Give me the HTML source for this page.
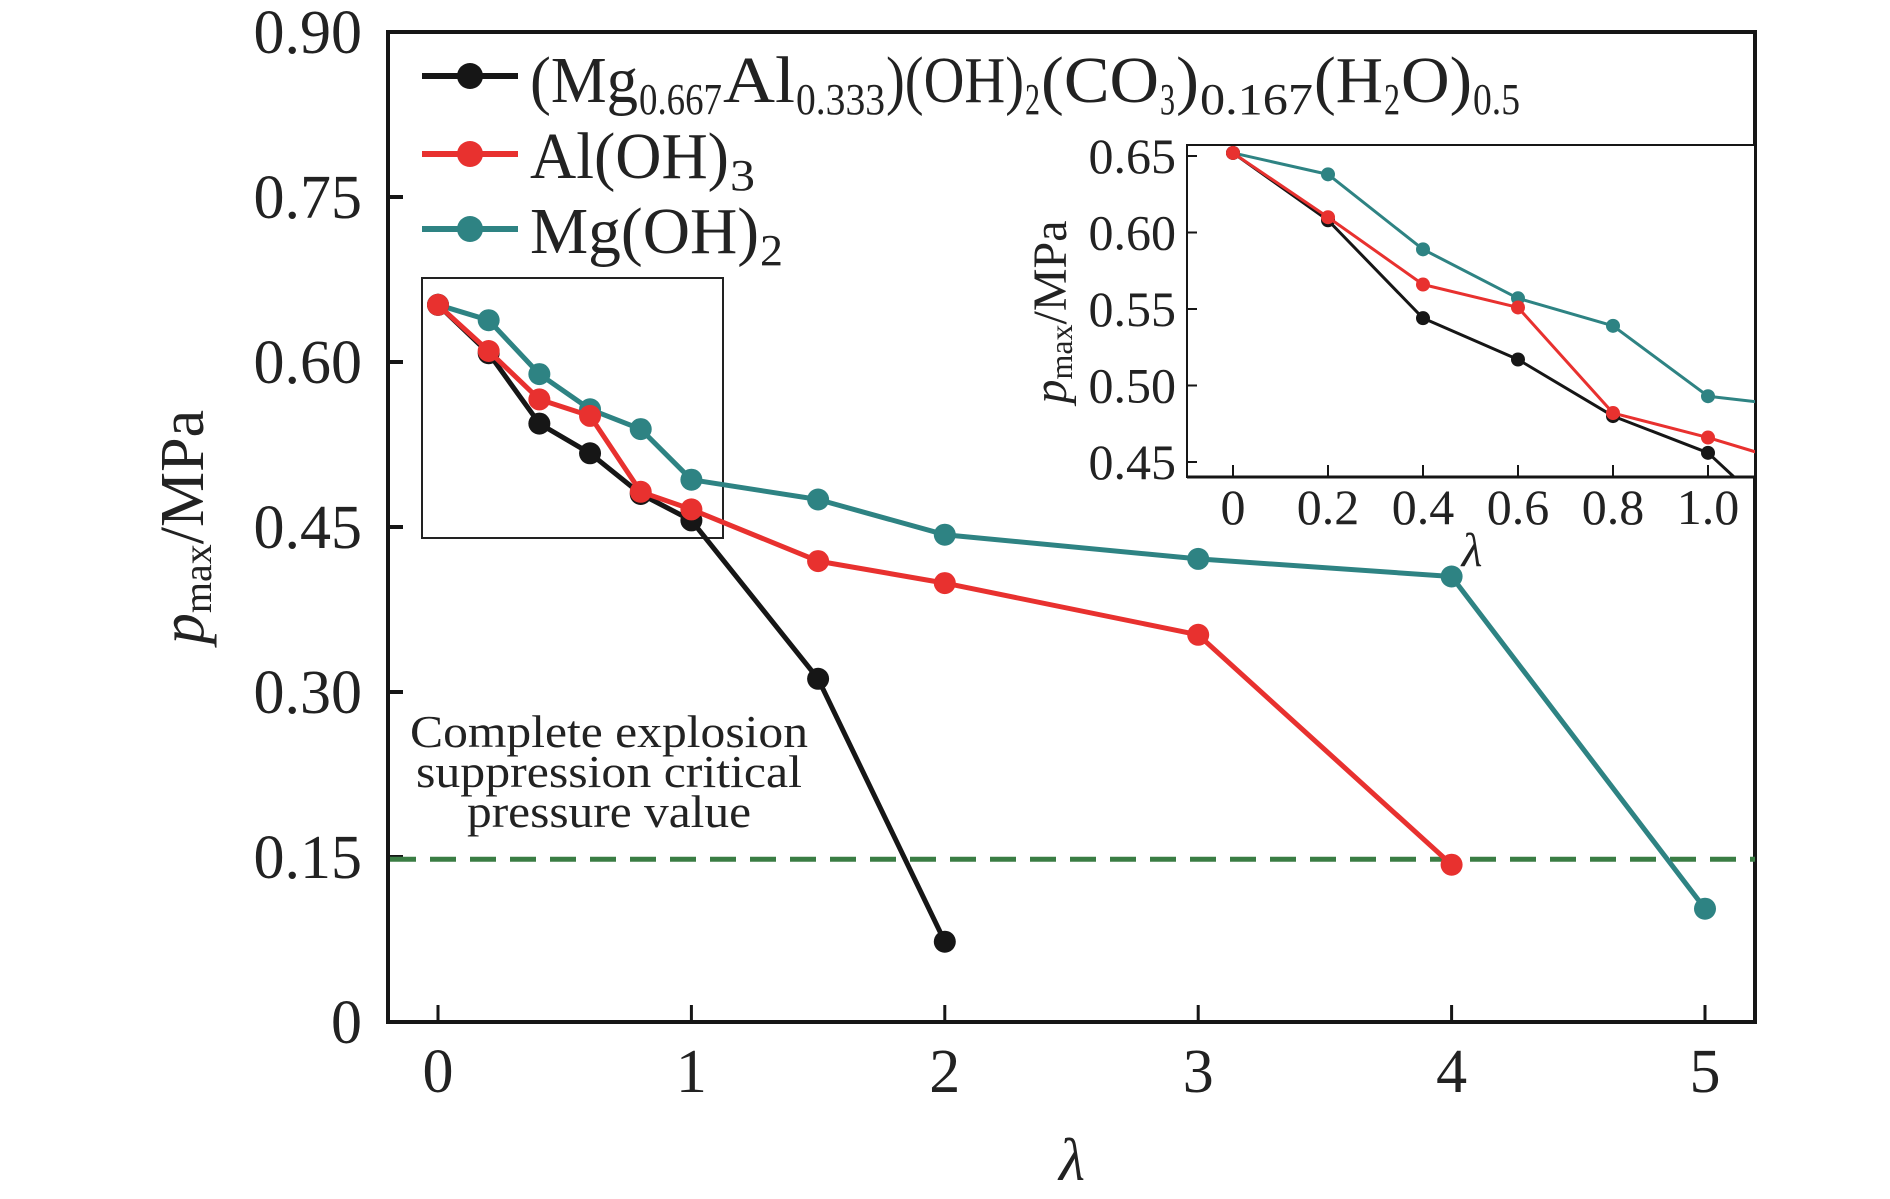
<!DOCTYPE html>
<html><head><meta charset="utf-8"><style>
html,body{margin:0;padding:0;background:#fff;}
svg{display:block;font-family:"Liberation Serif","DejaVu Serif",serif;}
</style></head><body>
<svg id="chart" width="1890" height="1199" viewBox="0 0 1890 1199" xmlns="http://www.w3.org/2000/svg">
<defs><clipPath id="insetClip"><rect x="1187" y="145" width="568" height="332"/></clipPath></defs>
<g id="main"></g>
<g id="inset"></g>
</svg>
<script>
const xBlack=[0,0.2,0.4,0.6,0.8,1,1.5,2];
const yBlack=[0.652,0.608,0.544,0.517,0.480,0.456,0.312,0.073];
const xRed=[0,0.2,0.4,0.6,0.8,1,1.5,2,3,4];
const yRed=[0.652,0.610,0.566,0.551,0.482,0.466,0.419,0.399,0.352,0.143];
const xTeal=[0,0.2,0.4,0.6,0.8,1,1.5,2,3,4,5];
const yTeal=[0.652,0.638,0.589,0.557,0.539,0.493,0.475,0.443,0.421,0.405,0.103];
const criticalValue=0.148;
const mainYTicks=[0,0.15,0.30,0.45,0.60,0.75,0.90];
const mainYLabels=["0","0.15","0.30","0.45","0.60","0.75","0.90"];
const mainXTicks=[0,1,2,3,4,5];
const insetYTicks=[0.45,0.50,0.55,0.60,0.65];
const insetYLabels=["0.45","0.50","0.55","0.60","0.65"];
const insetXTicks=[0,0.2,0.4,0.6,0.8,1.0];
const insetXLabels=["0","0.2","0.4","0.6","0.8","1.0"];

const NS="http://www.w3.org/2000/svg";
const COL={black:"#161616",red:"#e8312f",teal:"#2e8383"};
function mk(parent,tag,attrs,text){const e=document.createElementNS(NS,tag);for(const k in attrs)e.setAttribute(k,attrs[k]);if(text!==undefined)e.textContent=text;parent.appendChild(e);return e;}

const mx=v=>438+v*253.4, my=v=>1022-v*(990/0.9);
const main=document.getElementById('main');
const frame=mk(main,'rect',{x:388,y:32,width:1367,height:990,fill:'none',stroke:'#161616','stroke-width':4});


mainYTicks.forEach((t,i)=>{
  const tk=mk(main,'line',{x1:388,x2:403,y1:my(t),y2:my(t),stroke:'#161616','stroke-width':4});
  
  
  const lb=mk(main,'text',{x:362,y:my(t)+21,'text-anchor':'end','font-size':62,fill:'#222'},mainYLabels[i]);
  
  
});
mainXTicks.forEach(t=>{
  const tk=mk(main,'line',{x1:mx(t),x2:mx(t),y1:1022,y2:1005,stroke:'#161616','stroke-width':3});
  
  
  const lb=mk(main,'text',{x:mx(t),y:1092,'text-anchor':'middle','font-size':62,fill:'#222'},String(t));
  
  
});
const xt=mk(main,'text',{x:1072,y:1180,'text-anchor':'middle','font-size':60,'font-style':'italic',fill:'#222'},'λ');


const yt=mk(main,'text',{x:0,y:0,'text-anchor':'middle','font-size':62,fill:'#222',transform:'translate(203,527) rotate(-90)'});


mk(yt,'tspan',{'font-style':'italic'},'p');
mk(yt,'tspan',{'font-size':40,dy:8},'max');
mk(yt,'tspan',{dy:-8},'/MPa');

const dl=mk(main,'line',{x1:390,x2:1755,y1:my(criticalValue),y2:my(criticalValue),stroke:'#3a7d44','stroke-width':5,'stroke-dasharray':'26,14'});


[['Complete explosion',398],['suppression critical',386],['pressure value',284]].forEach((s,i)=>{
  const t=mk(main,'text',{x:609,y:747+i*40,'text-anchor':'middle','font-size':46,fill:'#222',textLength:s[1],lengthAdjust:'spacingAndGlyphs'},s[0]);
  
  
});
const zr=mk(main,'rect',{x:422,y:278,width:301,height:260,fill:'none',stroke:'#222','stroke-width':2});



function series(g,xs,ys,fx,fy,col,w,r,name){
  const pl=mk(g,'polyline',{points:xs.map((x,i)=>fx(x)+','+fy(ys[i])).join(' '),fill:'none',stroke:col,'stroke-width':w,'stroke-linejoin':'round'});
  
  
  xs.forEach((x,i)=>{
    const c=mk(g,'circle',{cx:fx(x),cy:fy(ys[i]),r:r,fill:col});
    
    
  });
}
series(main,xTeal,yTeal,mx,my,COL.teal,5,11,'mg-oh2');
series(main,xBlack,yBlack,mx,my,COL.black,5,11,'ldh');
series(main,xRed,yRed,mx,my,COL.red,5,11,'al-oh3');

const legY=[76,154,229];
const legC=[COL.black,COL.red,COL.teal];
const leg=mk(main,'g',{});


legY.forEach((y,i)=>{
  const l=mk(leg,'line',{x1:422,x2:518,y1:y,y2:y,stroke:legC[i],'stroke-width':6});
  
  
  const c=mk(leg,'circle',{cx:470,cy:y,r:13,fill:legC[i]});
  
  
});
function legText(base,end,segs){
  const g=mk(leg,'g',{});
  
  
  segs.forEach((s,i)=>{
    const x1=(i+1<segs.length)?segs[i+1][1]:end;
    mk(g,'text',{x:s[1],y:s[2]?base+12:base,'font-size':s[2]?44:66,fill:'#222',textLength:x1-s[1]-1,lengthAdjust:'spacingAndGlyphs'},s[0]);
  });
}
legText(102,1521,[['(Mg',530],['0.667',639,1],['Al',723],['0.333',796,1],[')(OH)',886],['2',1025,1],['(CO',1041],['3',1160,1],[')',1176],['0.167',1200,1],['(H',1314],['2',1384,1],['O)',1401],['0.5',1473,1]]);
legText(178,756,[['Al(OH)',530],['3',730,1]]);
legText(253,784,[['Mg(OH)',530],['2',760,1]]);

const ix=v=>1233+v*475, iy=v=>156+(0.65-v)*1530;
const inset=document.getElementById('inset');
const ibg=mk(inset,'rect',{x:1187,y:145,width:568,height:332,fill:'#fff',stroke:'#161616','stroke-width':2});


const ib=mk(inset,'line',{x1:1187,x2:1755,y1:477,y2:477,stroke:'#161616','stroke-width':3});


insetYTicks.forEach((t,i)=>{
  const tk=mk(inset,'line',{x1:1187,x2:1197,y1:iy(t),y2:iy(t),stroke:'#161616','stroke-width':2});
  
  
  const lb=mk(inset,'text',{x:1176,y:iy(t)+17,'text-anchor':'end','font-size':50,fill:'#222'},insetYLabels[i]);
  
  
});
insetXTicks.forEach((t,i)=>{
  const tk=mk(inset,'line',{x1:ix(t),x2:ix(t),y1:477,y2:465,stroke:'#161616','stroke-width':2});
  
  
  const lb=mk(inset,'text',{x:ix(t),y:524,'text-anchor':'middle','font-size':50,fill:'#222'},insetXLabels[i]);
  
  
});
const ixt=mk(inset,'text',{x:1472,y:566,'text-anchor':'middle','font-size':48,'font-style':'italic',fill:'#222'},'λ');


const iyt=mk(inset,'text',{x:0,y:0,'text-anchor':'middle','font-size':48,fill:'#222',transform:'translate(1066,312) rotate(-90)'});


mk(iyt,'tspan',{'font-style':'italic'},'p');
mk(iyt,'tspan',{'font-size':32,dy:6},'max');
mk(iyt,'tspan',{dy:-6},'/MPa');
const ig=mk(inset,'g',{'clip-path':'url(#insetClip)'});


series(ig,xTeal,yTeal,ix,iy,COL.teal,3,7,'inset-mg-oh2');
series(ig,xBlack,yBlack,ix,iy,COL.black,3,7,'inset-ldh');
series(ig,xRed,yRed,ix,iy,COL.red,3,7,'inset-al-oh3');
</script>
</body></html>
